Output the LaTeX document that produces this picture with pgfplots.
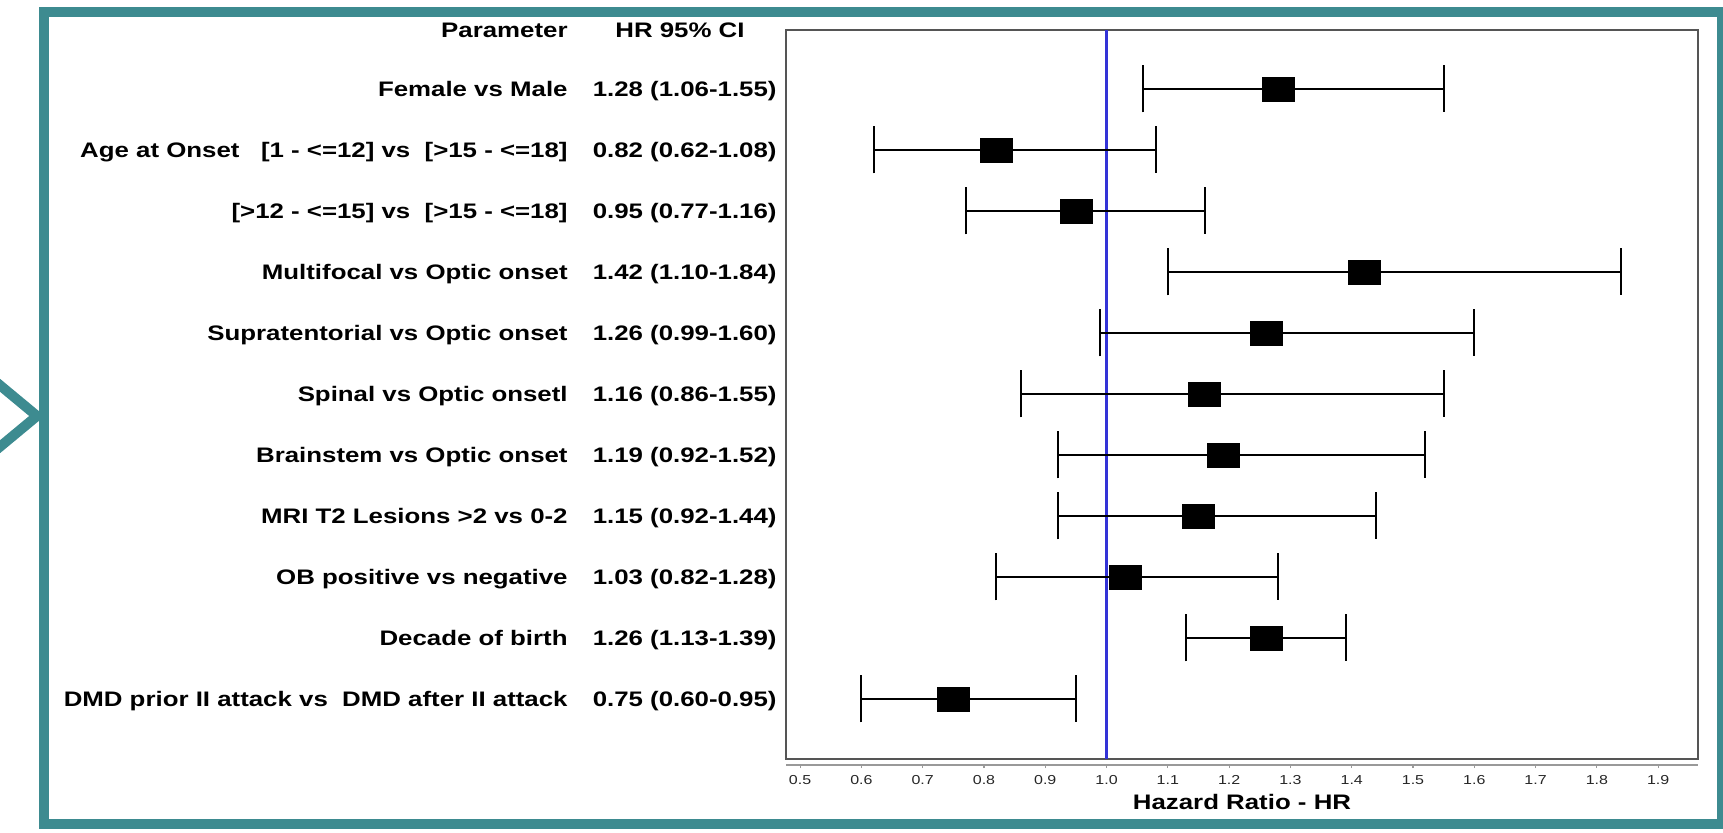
\documentclass[border=0pt]{standalone}
\usepackage{pgfplots}
\pgfplotsset{compat=1.18}
\usepackage{pgfplotstable}
\usepackage{fontspec}
\setmainfont[FakeStretch=1.23]{Liberation Sans}
\definecolor{frameteal}{RGB}{61,139,144}
\definecolor{refblue}{RGB}{51,51,214}
\definecolor{axgray}{RGB}{85,85,85}

\pgfplotstableread{
row hr lo hi
1 1.28 1.06 1.55
2 0.82 0.62 1.08
3 0.95 0.77 1.16
4 1.42 1.10 1.84
5 1.26 0.99 1.60
6 1.16 0.86 1.55
7 1.19 0.92 1.52
8 1.15 0.92 1.44
9 1.03 0.82 1.28
10 1.26 1.13 1.39
11 0.75 0.60 0.95
}\hrdata

\begin{document}
\begin{tikzpicture}
\begin{scope}[x=0.5pt,y=-0.5pt]
\path[use as bounding box] (0,0) rectangle (1723,833);
\begin{scope}
\clip (0,0) rectangle (1723,833);
\draw[frameteal, line width=5pt] (44,12) rectangle (1722,824);
\draw[frameteal, line width=5pt, miter limit=10] (-20,368.7) -- (37,416) -- (-20,463.3);
\end{scope}
\end{scope}

\begin{axis}[
  at={(393pt,-379.5pt)}, anchor=south west,
  scale only axis, width=456pt, height=364.5pt,
  xmin=0.477, xmax=1.965, ymin=0.033, ymax=11.984,
  y dir=reverse,
  xtick=\empty, ytick=\empty,
  axis line style={draw=axgray, line width=1pt},
  clip=false,
]
\addplot[refblue, line width=1.75pt] coordinates {(1,0.033) (1,11.984)};
\addplot[only marks, mark=square*, mark size=6pt, black,
  mark options={xscale=1.333},
  error bars/.cd, x dir=both, x explicit,
  error mark=|,
  error bar style={line width=1pt, black},
  error mark options={mark size=11.75pt, line width=1pt, black}]
  table[x=hr, y=row,
        x error plus expr=\thisrow{hi}-\thisrow{hr},
        x error minus expr=\thisrow{hr}-\thisrow{lo}] {\hrdata};
\end{axis}

\begin{axis}[
  at={(393pt,-382.5pt)}, anchor=south west,
  scale only axis, width=456pt, height=1pt,
  xmin=0.477, xmax=1.965, ymin=0, ymax=1,
  hide y axis, axis x line=bottom,
  axis line style={-, draw=gray!80, line width=0.6pt},
  xtick={0.5,0.6,0.7,0.8,0.9,1.0,1.1,1.2,1.3,1.4,1.5,1.6,1.7,1.8,1.9},
  xtick align=outside, major tick length=1.5pt,
  tick style={draw=gray!80, line width=0.6pt},
  /pgf/number format/assume math mode=true,
  xticklabel style={/pgf/number format/.cd, fixed, fixed zerofill, precision=1, /tikz/.cd,
     font=\fontsize{6.5pt}{7pt}\selectfont, text=black!85, anchor=center, yshift=-6pt},
  xlabel={Hazard Ratio - HR},
  xlabel style={at={(axis description cs:0.5,0)}, anchor=base, yshift=-22.25pt,
     font=\fontsize{10.5pt}{12pt}\selectfont\bfseries},
]
\addplot[draw=none] coordinates {(1,0.5)};
\end{axis}

\begin{scope}[x=0.5pt,y=-0.5pt, every node/.style={inner sep=0pt, anchor=base east, font=\fontsize{10.5pt}{12pt}\selectfont\bfseries}]
\node at (568,37.5) {Parameter};
\node at (745,37.5) {HR 95\% CI};
\node at (568,96.5) {Female vs Male};
\node at (777,96.5) {1.28 (1.06-1.55)};
\node at (568,157.5) {Age at Onset\ \ \ [1 - <=12] vs\ \ [>15 - <=18]};
\node at (777,157.5) {0.82 (0.62-1.08)};
\node at (568,218.5) {{}[>12 - <=15] vs\ \ [>15 - <=18]};
\node at (777,218.5) {0.95 (0.77-1.16)};
\node at (568,279.5) {Multifocal vs Optic onset};
\node at (777,279.5) {1.42 (1.10-1.84)};
\node at (568,340.5) {Supratentorial vs Optic onset};
\node at (777,340.5) {1.26 (0.99-1.60)};
\node at (568,401.5) {Spinal vs Optic onsetl};
\node at (777,401.5) {1.16 (0.86-1.55)};
\node at (568,462.5) {Brainstem vs Optic onset};
\node at (777,462.5) {1.19 (0.92-1.52)};
\node at (568,523.5) {MRI T2 Lesions >2 vs 0-2};
\node at (777,523.5) {1.15 (0.92-1.44)};
\node at (568,584.5) {OB positive vs negative};
\node at (777,584.5) {1.03 (0.82-1.28)};
\node at (568,645.5) {Decade of birth};
\node at (777,645.5) {1.26 (1.13-1.39)};
\node at (568,706.5) {DMD prior II attack vs\ \ DMD after II attack};
\node at (777,706.5) {0.75 (0.60-0.95)};
\end{scope}
\end{tikzpicture}
\end{document}
